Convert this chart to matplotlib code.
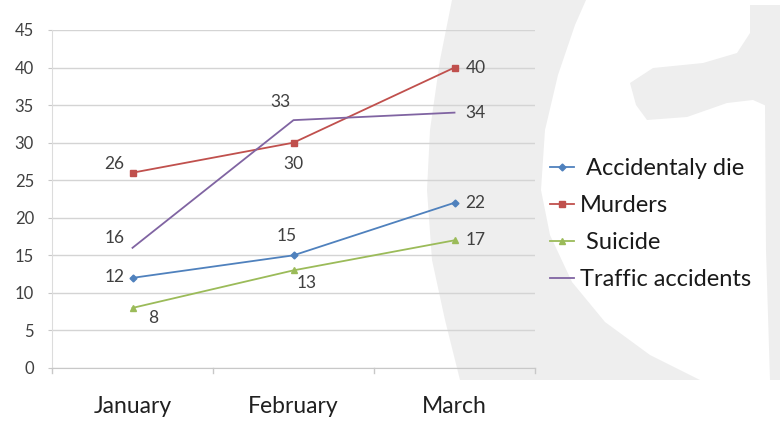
import matplotlib
matplotlib.use("Agg")
import matplotlib.pyplot as plt
from matplotlib.patches import Polygon

months = ["January", "February", "March"]
accidental = [12, 15, 22]
murders = [26, 30, 40]
suicide = [8, 13, 17]
traffic = [16, 33, 34]
yticks = [0, 5, 10, 15, 20, 25, 30, 35, 40, 45]

plt.rcParams['font.family'] = ['Lato', 'DejaVu Sans']

W, H = 780, 421
fig = plt.figure(figsize=(W / 100, H / 100), dpi=100)
fig.patch.set_facecolor('white')

def fp(pts):
    return [(x / W, 1 - y / H) for x, y in pts]

wm = '#eeeeee'
arc = [(452, 0), (440, 60), (430, 130), (427, 190), (432, 260), (445, 320), (460, 380),
       (700, 380), (650, 355), (605, 322), (572, 282), (550, 235), (541, 190),
       (545, 130), (558, 75), (575, 25), (586, 0)]
blob = [(630, 83), (653, 68), (703, 63), (737, 53), (750, 33), (750, 5), (780, 5),
        (780, 112), (753, 100), (727, 103), (687, 117), (647, 120), (636, 105)]
strip = [(765, 105), (780, 105), (780, 380), (770, 380), (766, 250)]
for poly in (arc, blob, strip):
    fig.patches.append(Polygon(fp(poly), closed=True, transform=fig.transFigure,
                               facecolor=wm, edgecolor='none', zorder=0))

ax = fig.add_axes([52 / W, 1 - 368 / H, (535 - 52) / W, (368 - 30) / H])
ax.set_zorder(2)
ax.set_facecolor('none')
x = list(range(len(months)))

series = [
    (" Accidentaly die", accidental, '#4F81BD', 'D', 3.5),
    ("Murders", murders, '#C0504D', 's', 5),
    (" Suicide", suicide, '#9BBB59', '^', 4),
    ("Traffic accidents", traffic, '#8064A2', None, 0),
]
handles = []
for name, vals, col, mk, ms in series:
    h, = ax.plot(x, vals, color=col, lw=1.3, marker=mk, markersize=ms,
                 markeredgecolor=col, label=name, zorder=3)
    handles.append(h)

ax.set_xlim(-0.5, 2.5)
ax.set_ylim(0, 45)
ax.set_yticks(yticks)
ax.set_xticks(x)
ax.set_xticklabels(months, fontsize=16.5, color='#202020')
ax.tick_params(axis='x', length=0, pad=20)
ax.tick_params(axis='y', length=3, color='#c8c8c8', labelsize=12, labelcolor='#404040', pad=10)
ax.yaxis.grid(True, color='#d4d4d4', lw=1)
ax.set_axisbelow(True)
for s in ['top', 'right']:
    ax.spines[s].set_visible(False)
ax.spines['left'].set_color('#dcdcdc')
ax.spines['bottom'].set_color('#c8c8c8')
for xb in (-0.5, 0.5, 1.5, 2.5):
    ax.plot([xb, xb], [0, -0.7], color='#c8c8c8', lw=1, clip_on=False)

lab = dict(textcoords='offset pixels', fontsize=12.5, color='#404040', zorder=4)
def put(xi, v, dx, dy, ha='center'):
    ax.annotate(str(v), (xi, v), xytext=(dx, dy), ha=ha, va='center', **lab)

# Accidentaly die
put(0, accidental[0], -8, 1, 'right')
put(1, accidental[1], -7, 19)
put(2, accidental[2], 11, 0, 'left')
# Murders
put(0, murders[0], -8, 9, 'right')
put(1, murders[1], 0, -21)
put(2, murders[2], 11, 0, 'left')
# Suicide
put(0, suicide[0], 21, -10)
put(1, suicide[1], 13, -13)
put(2, suicide[2], 11, 0, 'left')
# Traffic accidents
put(0, traffic[0], -8, 10, 'right')
put(1, traffic[1], -13, 18)
put(2, traffic[2], 11, 0, 'left')

leg = fig.legend(handles=handles, loc='upper left', bbox_to_anchor=(550 / W, 1 - 158 / H),
                 frameon=False, fontsize=17, handlelength=1.0, handletextpad=0.25,
                 labelspacing=0.68, borderaxespad=0, borderpad=0)
for t in leg.get_texts():
    t.set_color('#1a1a1a')

fig.savefig('out.png', dpi=100, facecolor='white')
